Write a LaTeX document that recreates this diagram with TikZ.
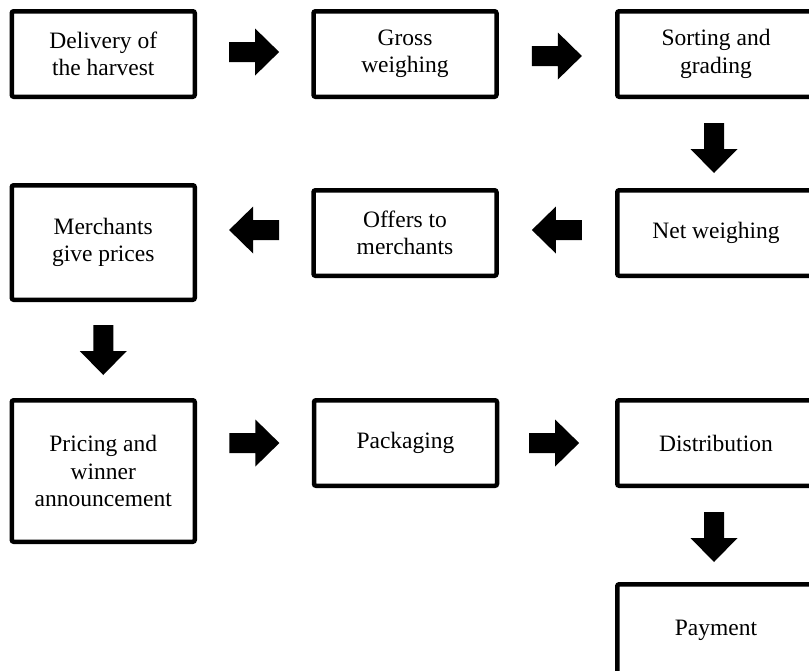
\documentclass[tikz,border=0pt]{standalone}
\usepackage{fontspec}
\setmainfont{Liberation Serif}
\usetikzlibrary{calc}
\begin{document}
\begin{tikzpicture}[x=1pt,y=-1pt,
  box/.style={draw, line width=4.5pt, rounded corners=2pt, align=center, inner sep=0pt,
    font=\fontsize{23.5}{27.5}\selectfont},
  narrowbox/.style={box, minimum width=183pt},
  widebox/.style={box, minimum width=197.5pt},
  barrow/.pic={\fill (-25,-10) -- (1,-10) -- (1,-23.5) -- (25,0) -- (1,23.5) -- (1,10) -- (-25,10) -- cycle;}]
\useasboundingbox (0,0) rectangle (809,670);
\clip (0,0) rectangle (809,670);
% row 1
\node[narrowbox, minimum height=85.5pt] (deliv) at (103.25,54) {Delivery of\\the harvest};
\node[narrowbox, minimum height=85.5pt] (gross) at (405,54) {Gross\\weighing};
\node[widebox, minimum height=85.5pt] (sort) at (716,54) {Sorting and\\grading};
% row 2
\node[widebox, minimum height=85.5pt] (net) at (716,233) {Net weighing};
\node[narrowbox, minimum height=85.5pt] (offers) at (405,233) {Offers to\\merchants};
\node[narrowbox, minimum height=114.5pt] (merch) at (103.25,242.5) {Merchants\\give prices};
% row 3
\node[narrowbox, minimum height=141.5pt] (pricing) at (103.25,471) {Pricing and\\winner\\announcement};
\node[narrowbox, minimum height=85.5pt] (pack) at (405.5,443) {Packaging};
\node[widebox, minimum height=85.5pt] (dist) at (716,443) {Distribution};
% row 4
\node[widebox, minimum height=91.5pt] (pay) at (716,630) {Payment};
% arrows
\coordinate (a1) at ($(deliv.east)!0.5!(gross.west)+(0,-2)$);
\coordinate (a2) at ($(gross.east)!0.5!(sort.west)+(0,2)$);
\coordinate (a3) at ($(sort.south)!0.5!(net.north)+(-2,4.5)$);
\coordinate (a4) at ($(net.west)!0.5!(offers.east)+(0,-3)$);
\coordinate (a5) at ($(offers.west)!0.5!(merch.east |- offers.west)+(0,-3)$);
\coordinate (a6) at ($(merch.south)!0.5!(pricing.north)$);
\coordinate (a7) at ($(pricing.east |- pack.west)!0.5!(pack.west)$);
\coordinate (a8) at ($(pack.east)!0.5!(dist.west)+(-3,0)$);
\coordinate (a9) at ($(dist.south)!0.5!(pay.north)+(-2,2)$);
\pic at (a1) {barrow};
\pic at (a2) {barrow};
\pic[rotate=-90] at (a3) {barrow};
\pic[rotate=180] at (a4) {barrow};
\pic[rotate=180] at (a5) {barrow};
\pic[rotate=-90] at (a6) {barrow};
\pic at (a7) {barrow};
\pic at (a8) {barrow};
\pic[rotate=-90] at (a9) {barrow};
\end{tikzpicture}
\end{document}
